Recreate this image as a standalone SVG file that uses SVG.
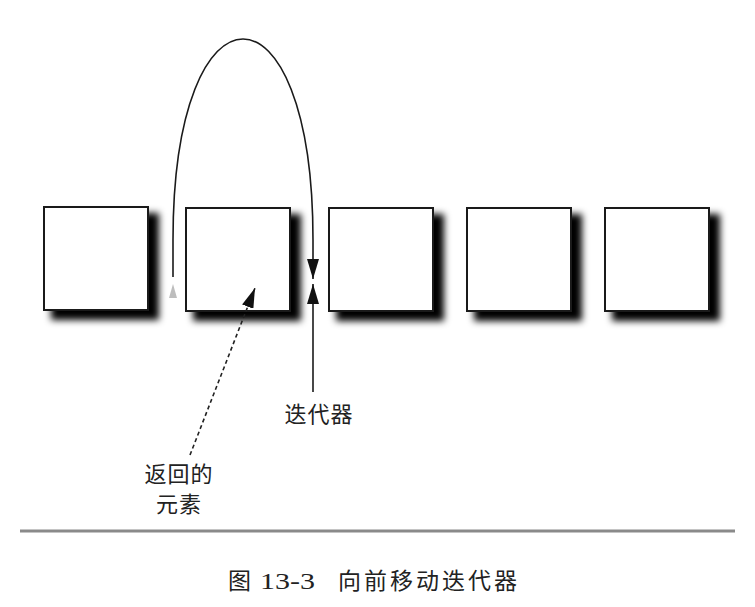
<svg xmlns="http://www.w3.org/2000/svg" width="755" height="607" viewBox="0 0 755 607">
  <style>
    .box { fill: #ffffff; stroke: #1a1a1a; stroke-width: 2; }
    .shadow { fill: #000000; filter: url(#soft); }
    .wire { fill: none; stroke: #1a1a1a; stroke-width: 1.6; }
    .dash { fill: none; stroke: #222222; stroke-width: 1.6; stroke-dasharray: 4 3; }
    .label { font-family: "Liberation Serif", "Noto Sans CJK SC", serif; font-size: 22px; fill: #222222; text-anchor: middle; letter-spacing: 1px; }
    .caption { font-family: "Liberation Serif", "Noto Sans CJK SC", serif; font-size: 23px; fill: #222222; }
  </style>
  <defs>
    <filter id="soft" x="-20%" y="-20%" width="140%" height="140%">
      <feGaussianBlur stdDeviation="3.5"/>
    </filter>
    <marker id="headBig" viewBox="0 0 20 12" refX="20" refY="6" markerWidth="20" markerHeight="12" markerUnits="userSpaceOnUse" orient="auto">
      <path d="M0,0 L20,6 L0,12 Z" fill="#111111"/>
    </marker>
  </defs>

  <rect width="755" height="607" fill="#ffffff"/>

  <!-- page rules -->
  <line x1="75" y1="8" x2="735" y2="8" stroke="#d8d8d8" stroke-width="2" filter="url(#soft)"/>
  <line x1="20" y1="531" x2="735" y2="531" stroke="#8a8a8a" stroke-width="3"/>

  <!-- list elements -->
  <g id="node1">
    <rect class="shadow" x="51" y="213" width="108" height="107"/>
    <rect class="box" x="44" y="207" width="104" height="103"/>
  </g>
  <g id="node2">
    <rect class="shadow" x="193" y="214" width="108" height="107"/>
    <rect class="box" x="186" y="208" width="104" height="103"/>
  </g>
  <g id="node3">
    <rect class="shadow" x="336" y="214" width="108" height="107"/>
    <rect class="box" x="329" y="208" width="104" height="103"/>
  </g>
  <g id="node4">
    <rect class="shadow" x="474" y="214" width="108" height="107"/>
    <rect class="box" x="467" y="208" width="104" height="103"/>
  </g>
  <g id="node5">
    <rect class="shadow" x="612" y="214" width="108" height="107"/>
    <rect class="box" x="605" y="208" width="104" height="103"/>
  </g>

  <!-- connectors -->
  <g id="connectors">
    <!-- faded start marker of the jump -->
    <path d="M173,284 L169,298 L177,298 Z" fill="#bdbdbd"/>
    <!-- jump arc -->
    <path class="wire" d="M173,277 L173,240 C173,-28 313,-28 313,240 L313,279" marker-end="url(#headBig)"/>
    <!-- iterator pointer -->
    <line class="wire" x1="313" y1="392" x2="313" y2="284" marker-end="url(#headBig)"/>
    <!-- returned element pointer -->
    <line class="dash" x1="190" y1="455" x2="255" y2="288" marker-end="url(#headBig)"/>
  </g>

  <!-- labels -->
  <text class="label" x="319" y="422">迭代器</text>
  <text class="label" x="179" y="482">返回的</text>
  <text class="label" x="179" y="512">元素</text>
  <text class="caption" y="589"><tspan x="228">图</tspan></text>
  <text class="caption" x="260" y="589" font-size="25" textLength="55" lengthAdjust="spacingAndGlyphs">13-3</text>
  <text class="caption" x="338" y="589" letter-spacing="3">向前移动迭代器</text>
</svg>
